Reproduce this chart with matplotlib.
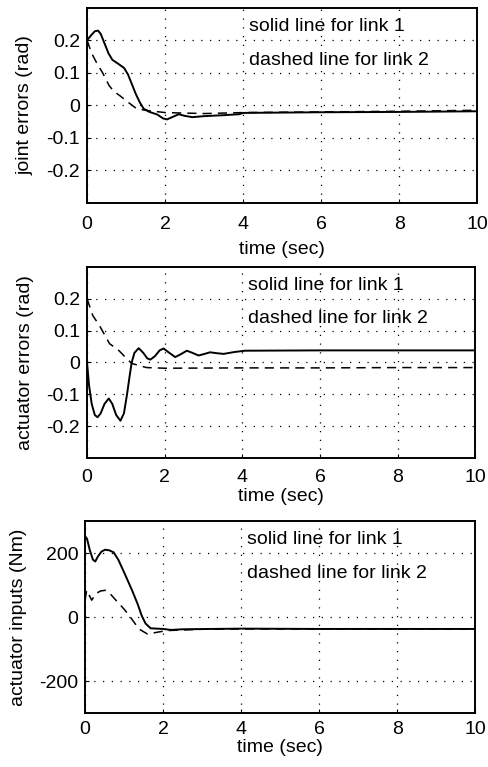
import numpy as np
import matplotlib
matplotlib.use("Agg")
import matplotlib.pyplot as plt

# ---------------- data ----------------
# joint errors (rad)
t_joint1 = [0.0, 0.1, 0.2, 0.28, 0.35, 0.45, 0.55, 0.65, 0.8, 0.95, 1.05, 1.15, 1.25, 1.35, 1.45,
            1.6, 1.8, 1.95, 2.05, 2.2, 2.35, 2.5, 2.7, 3.0, 3.5, 3.9, 4.0, 6.0, 8.0, 10.0]
e_joint1 = [0.2, 0.215, 0.228, 0.23, 0.22, 0.19, 0.16, 0.14, 0.128, 0.115, 0.095, 0.065, 0.035, 0.01, -0.01,
            -0.02, -0.028, -0.04, -0.043, -0.035, -0.027, -0.032, -0.036, -0.033, -0.03, -0.027, -0.023, -0.021, -0.02, -0.018]
t_joint2 = [0.0, 0.12, 0.25, 0.4, 0.57, 0.7, 0.84, 1.05, 1.27, 1.5, 2.0, 3.0, 4.0, 6.0, 8.0, 10.0]
e_joint2 = [0.2, 0.16, 0.13, 0.1, 0.06, 0.042, 0.03, 0.01, -0.01, -0.015, -0.022, -0.025, -0.022, -0.02, -0.018, -0.015]

# actuator errors (rad)
t_act1 = [0.0, 0.05, 0.12, 0.2, 0.27, 0.35, 0.45, 0.56, 0.65, 0.75, 0.86, 0.95, 1.03, 1.1, 1.15, 1.22,
          1.33, 1.45, 1.55, 1.63, 1.75, 1.87, 1.97, 2.1, 2.27, 2.4, 2.57, 2.72, 2.87, 3.0, 3.17, 3.35,
          3.52, 3.8, 4.07, 6.0, 8.0, 10.0]
e_act1 = [0.0, -0.07, -0.13, -0.165, -0.172, -0.16, -0.13, -0.113, -0.13, -0.165, -0.183, -0.16, -0.1, -0.04, 0.0, 0.03,
          0.045, 0.03, 0.013, 0.009, 0.02, 0.038, 0.044, 0.032, 0.017, 0.025, 0.037, 0.03, 0.022, 0.026, 0.032, 0.029,
          0.027, 0.033, 0.037, 0.038, 0.038, 0.038]
t_act2 = [0.0, 0.15, 0.32, 0.58, 0.8, 1.0, 1.15, 1.53, 2.0, 4.0, 6.0, 8.0, 10.0]
e_act2 = [0.2, 0.147, 0.116, 0.059, 0.04, 0.015, -0.003, -0.016, -0.018, -0.017, -0.017, -0.016, -0.016]

# actuator inputs (Nm)
t_in1 = [0.0, 0.05, 0.12, 0.2, 0.26, 0.33, 0.42, 0.51, 0.62, 0.73, 0.85, 1.0, 1.2, 1.35, 1.45, 1.55,
         1.68, 2.0, 2.2, 2.5, 4.0, 6.0, 8.0, 10.0]
u_in1 = [253, 245, 210, 180, 174, 190, 205, 211, 209, 203, 180, 140, 85, 40, 5, -20,
         -35, -37, -40, -38, -36, -37, -37, -37]
t_in2 = [0.0, 0.04, 0.17, 0.28, 0.4, 0.53, 0.65, 0.79, 1.0, 1.13, 1.38, 1.6, 1.86, 2.1, 3.0, 4.0, 6.0, 8.0, 10.0]
u_in2 = [53, 84, 53, 74, 82, 84, 72, 53, 25, 5, -37, -53, -47, -42, -38, -37, -37, -37, -37]

xticks = [0, 2, 4, 6, 8, 10]
err_ticks = [-0.2, -0.1, 0, 0.1, 0.2]
err_labels = ["-0.2", "-0.1", "0", "0.1", "0.2"]
inp_ticks = [-200, 0, 200]
inp_labels = ["-200", "0", "200"]

panels = [
    (t_joint1, e_joint1, t_joint2, e_joint2, "joint errors (rad)", (-0.3, 0.3), err_ticks, err_labels, (0.243, 0.138)),
    (t_act1, e_act1, t_act2, e_act2, "actuator errors (rad)", (-0.3, 0.3), err_ticks, err_labels, (0.243, 0.138)),
    (t_in1, u_in1, t_in2, u_in2, "actuator inputs (Nm)", (-300, 300), inp_ticks, inp_labels, (243, 138)),
]

plt.rcParams['font.family'] = ['Liberation Sans', 'DejaVu Sans']
plt.rcParams['axes.unicode_minus'] = False

fig = plt.figure(figsize=(4.89, 7.67), dpi=100)
positions = [
    [0.178, 0.7353, 0.798, 0.2545],
    [0.178, 0.4029, 0.794, 0.249],
    [0.174, 0.0704, 0.798, 0.250],
]
xlabel_pads = [6, 1.5, 0.5]
xtick_pads = [9, 8, 6]

for pos, lpad, tpad, (xa, ya, xb, yb, ylab, ylim, yt, ytl, txt_y) in zip(positions, xlabel_pads, xtick_pads, panels):
    ax = fig.add_axes(pos)
    ax.plot(xa, ya, color='black', lw=1.4, solid_joinstyle='round')
    ax.plot(xb, yb, color='black', lw=1.1, dashes=(6, 4))
    ax.set_xlim(0, 10)
    ax.set_ylim(*ylim)
    ax.set_xticks(xticks)
    ax.set_xticklabels([str(v) for v in xticks])
    ax.set_yticks(yt)
    ax.set_yticklabels(ytl)
    ax.grid(True, color='black', linestyle=(0, (1, 6)), linewidth=0.9)
    ax.tick_params(direction='in', length=3, labelsize=14)
    ax.tick_params(axis='x', pad=tpad)
    ax.tick_params(axis='y', pad=5)
    for sp in ax.spines.values():
        sp.set_linewidth(1.4)
    ax.set_xlabel("time (sec)", fontsize=14, labelpad=lpad)
    ax.set_ylabel(ylab, fontsize=14, labelpad=9)
    ax.text(4.15, txt_y[0], "solid line for link 1", fontsize=14, va='center', ha='left')
    ax.text(4.15, txt_y[1], "dashed line for link 2", fontsize=14, va='center', ha='left')

fig.savefig("out.png", dpi=100)
